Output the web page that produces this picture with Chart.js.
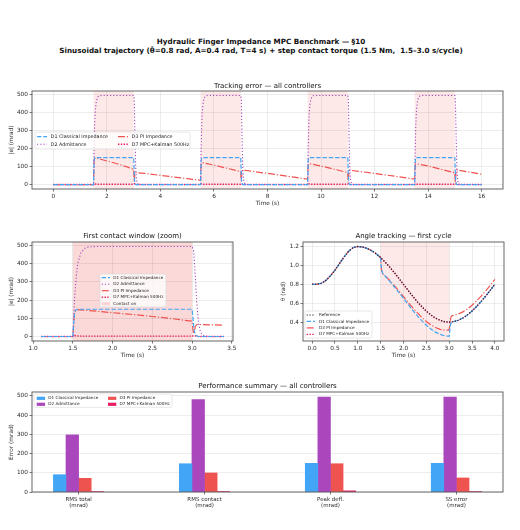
<!DOCTYPE html>
<html>
<head>
<meta charset="utf-8">
<script src="https://cdn.jsdelivr.net/npm/chart.js@4.4.0/dist/chart.umd.min.js"></script>
<style>
  html, body { margin: 0; padding: 0; background: #fff; }
  body { width: 520px; height: 530px; position: relative; overflow: hidden; font-family: "DejaVu Sans", sans-serif; }
  canvas { position: absolute; }
  .sup { position: absolute; left: 1px; width: 520px; text-align: center; font-weight: bold; white-space: pre; color: #111; line-height: 1; }
</style>
</head>
<body>
<div id="sup1" class="sup">Hydraulic Finger Impedance MPC Benchmark — §10</div>
<div id="sup2" class="sup">Sinusoidal trajectory (θ̄=0.8 rad, A=0.4 rad, T=4 s) + step contact torque (1.5 Nm,  1.5–3.0 s/cycle)</div>
<canvas id="cTrack" width="520" height="136" style="left:0;top:78px"></canvas>
<canvas id="cZoom" width="260" height="138" style="left:0;top:228px"></canvas>
<canvas id="cAngle" width="260" height="138" style="left:260px;top:228px"></canvas>
<canvas id="cBars" width="520" height="140" style="left:0;top:380px"></canvas>
<script>
// ---- data ----
const names = ['D1 Classical Impedance', 'D2 Admittance', 'D3 PI Impedance', 'D7 MPC+Kalman 500Hz'];
const contactStart = [1.5, 5.5, 9.5, 13.5];
const contactEnd = [3.0, 7.0, 11.0, 15.0];

// tracking error |e| (mrad), [t s, value]
const errD1 = [[0,0],[1.1,0],[1.5,0],[1.51,70],[1.52,125],[1.53,143],[1.55,150],[3.0,150],[3.01,110],[3.02,60],[3.03,25],[3.05,5],[3.08,0],[3.4,0],
  [5.5,0],[5.51,70],[5.52,125],[5.53,143],[5.55,150],[7.0,150],[7.01,110],[7.02,60],[7.03,25],[7.05,5],[7.08,0],
  [9.5,0],[9.51,70],[9.52,125],[9.53,143],[9.55,150],[11.0,150],[11.01,110],[11.02,60],[11.03,25],[11.05,5],[11.08,0],
  [13.5,0],[13.51,70],[13.52,125],[13.53,143],[13.55,150],[15.0,150],[15.01,110],[15.02,60],[15.03,25],[15.05,5],[15.08,0],[16,0]];
const errD2 = [[0,0],[1.1,0],[1.5,0],[1.51,110],[1.52,200],[1.54,320],[1.56,400],[1.6,460],[1.65,485],[1.7,493],[1.8,495],[3.0,495],[3.02,470],[3.04,330],[3.06,180],[3.08,80],[3.1,35],[3.12,15],[3.15,4],[3.2,0],[3.4,0],
  [5.5,0],[5.51,110],[5.52,200],[5.54,320],[5.56,400],[5.6,460],[5.65,485],[5.7,493],[5.8,495],[7.0,495],[7.02,470],[7.04,330],[7.06,180],[7.08,80],[7.1,35],[7.12,15],[7.15,4],[7.2,0],
  [9.5,0],[9.51,110],[9.52,200],[9.54,320],[9.56,400],[9.6,460],[9.65,485],[9.7,493],[9.8,495],[11.0,495],[11.02,470],[11.04,330],[11.06,180],[11.08,80],[11.1,35],[11.12,15],[11.15,4],[11.2,0],
  [13.5,0],[13.51,110],[13.52,200],[13.54,320],[13.56,400],[13.6,460],[13.65,485],[13.7,493],[13.8,495],[15.0,495],[15.02,470],[15.04,330],[15.06,180],[15.08,80],[15.1,35],[15.12,15],[15.15,4],[15.2,0],[16,0]];
const errD3 = [[0,0],[1.1,0],[1.5,0],[1.51,70],[1.52,135],[1.54,143],[1.56,147],[1.6,146],[1.8,139],[2.0,131],[2.25,121],[2.5,110],[2.75,98],[3.0,84],
  [3.01,40],[3.02,15],[3.03,30],[3.04,55],[3.06,66],[3.1,66],[3.4,62],[4.0,51],[4.5,42],[5.0,33],[5.5,24],
  [5.51,80],[5.53,118],[5.56,122],[6.0,108],[6.5,90],[7.0,72],[7.01,35],[7.02,15],[7.04,60],[7.06,80],[7.1,80],[8.0,62],[9.0,41],[9.5,30],
  [9.51,85],[9.53,113],[9.56,116],[10.0,103],[10.5,85],[11.0,66],[11.01,30],[11.02,12],[11.04,60],[11.06,79],[11.1,79],[12.0,62],[13.0,41],[13.5,30],
  [13.51,85],[13.53,113],[13.56,116],[14.0,103],[14.5,84],[15.0,65],[15.01,30],[15.02,12],[15.04,62],[15.06,81],[15.1,81],[16.0,57]];
const errD7 = [[0,0],[1.1,0],[1.5,0],[1.52,5],[1.6,2],[3.0,2],[3.02,5],[3.08,0],[3.4,0],
  [5.5,0],[5.52,5],[5.6,2],[7.0,2],[7.02,5],[7.08,0],[9.5,0],[9.52,5],[9.6,2],[11.0,2],[11.02,5],[11.08,0],
  [13.5,0],[13.52,5],[13.6,2],[15.0,2],[15.02,5],[15.08,0],[16,0]];

// joint angle θ (rad), first cycle, [t s, value]
const angRef = [[0,0.80],[0.1,0.80],[0.2,0.81],[0.3,0.84],[0.4,0.89],[0.5,0.95],[0.6,1.02],[0.7,1.09],[0.8,1.15],[0.9,1.19],[1.0,1.20],
  [1.1,1.195],[1.2,1.18],[1.3,1.156],[1.4,1.124],[1.5,1.083],[1.6,1.035],[1.7,0.982],[1.8,0.924],[1.9,0.863],[2.0,0.80],
  [2.1,0.737],[2.2,0.676],[2.3,0.618],[2.4,0.565],[2.5,0.517],[2.6,0.476],[2.7,0.444],[2.8,0.42],[2.9,0.405],[3.0,0.40],
  [3.1,0.405],[3.2,0.42],[3.3,0.444],[3.4,0.476],[3.5,0.517],[3.6,0.565],[3.7,0.618],[3.8,0.676],[3.9,0.737],[4.0,0.80]];
const angD1 = [[0,0.80],[0.1,0.80],[0.2,0.81],[0.3,0.84],[0.4,0.89],[0.5,0.95],[0.6,1.02],[0.7,1.09],[0.8,1.15],[0.9,1.19],[1.0,1.20],
  [1.1,1.195],[1.2,1.18],[1.3,1.156],[1.4,1.124],[1.5,1.083],[1.51,1.01],[1.52,0.955],[1.53,0.935],[1.55,0.91],[1.6,0.885],[1.7,0.832],[1.8,0.774],[1.9,0.713],[2.0,0.65],
  [2.1,0.587],[2.2,0.526],[2.3,0.468],[2.4,0.415],[2.5,0.367],[2.6,0.326],[2.7,0.294],[2.8,0.27],[2.9,0.255],[3.0,0.25],
  [3.01,0.29],[3.02,0.34],[3.03,0.375],[3.05,0.395],[3.1,0.405],[3.2,0.42],[3.3,0.444],[3.4,0.476],[3.5,0.517],[3.6,0.565],[3.7,0.618],[3.8,0.676],[3.9,0.737],[4.0,0.80]];
const angD3 = [[0,0.80],[0.1,0.80],[0.2,0.81],[0.3,0.84],[0.4,0.89],[0.5,0.95],[0.6,1.02],[0.7,1.09],[0.8,1.15],[0.9,1.19],[1.0,1.20],
  [1.1,1.195],[1.2,1.18],[1.3,1.156],[1.4,1.124],[1.5,1.083],[1.51,1.0],[1.52,0.945],[1.54,0.92],[1.56,0.905],[1.6,0.889],[1.7,0.84],[1.8,0.785],[1.9,0.728],[2.0,0.669],
  [2.1,0.61],[2.2,0.553],[2.3,0.5],[2.4,0.451],[2.5,0.407],[2.6,0.37],[2.7,0.343],[2.8,0.323],[2.9,0.315],[3.0,0.316],
  [3.01,0.36],[3.02,0.385],[3.03,0.43],[3.04,0.455],[3.06,0.466],[3.1,0.471],[3.2,0.485],[3.3,0.508],[3.4,0.538],[3.5,0.578],[3.6,0.624],[3.7,0.675],[3.8,0.731],[3.9,0.79],[4.0,0.851]];
const angD7 = [[0,0.80],[0.1,0.80],[0.2,0.81],[0.3,0.84],[0.4,0.89],[0.5,0.95],[0.6,1.02],[0.7,1.09],[0.8,1.15],[0.9,1.19],[1.0,1.20],
  [1.1,1.195],[1.2,1.18],[1.3,1.156],[1.4,1.124],[1.5,1.083],[1.52,1.07],[1.6,1.033],[1.7,0.98],[1.8,0.922],[1.9,0.861],[2.0,0.798],
  [2.1,0.735],[2.2,0.674],[2.3,0.616],[2.4,0.563],[2.5,0.515],[2.6,0.474],[2.7,0.442],[2.8,0.418],[2.9,0.403],[3.0,0.398],
  [3.02,0.405],[3.1,0.405],[3.2,0.42],[3.3,0.444],[3.4,0.476],[3.5,0.517],[3.6,0.565],[3.7,0.618],[3.8,0.676],[3.9,0.737],[4.0,0.80]];

// performance summary (mrad)
const metrics = [['RMS total', '(mrad)'], ['RMS contact', '(mrad)'], ['Peak defl.', '(mrad)'], ['SS error', '(mrad)']];
const sumD1 = [90, 147, 149, 149];
const sumD2 = [297, 481, 494, 494];
const sumD3 = [71, 99, 147, 73];
const sumD7 = [1, 1.5, 6, 0.5];

// tick labels
const tTicks16 = [0, 2, 4, 6, 8, 10, 12, 14, 16];
const tTicksZoom = [1.0, 1.5, 2.0, 2.5, 3.0, 3.5];
const tTicksCycle = [0, 0.5, 1.0, 1.5, 2.0, 2.5, 3.0, 3.5, 4.0];
const errTicks = [0, 100, 200, 300, 400, 500];
const angTicks = [0.4, 0.6, 0.8, 1.0, 1.2];
const metricTicks = [0, 1, 2, 3];

// ---- styling ----
const FONT = '"DejaVu Sans", sans-serif';
const INK = '#2b2b2b';
const GRID = 'rgba(0,0,0,0.09)';
const SPINE = '#555';
const C1 = '#42A5F5', C2 = '#AB47BC', C3 = '#EF5350', C7 = '#E91E63', CREF = '#222';
const DASH1 = [4.4, 1.9], DASH2 = [1.2, 2], DASH3 = [7, 1.9, 1.2, 1.9], DASH7 = [1.4, 1.4];

// main title, sized so line 2 spans like the reference
(function(){
  const m = document.createElement('canvas').getContext('2d');
  m.font = 'bold 10px "DejaVu Sans"';
  const s1 = document.getElementById('sup1'), s2 = document.getElementById('sup2');
  const fs = 10 * 404 / m.measureText(s2.textContent).width;
  [[s1, 42], [s2, 51]].forEach(([el, cy]) => {
    el.style.fontSize = fs + 'px';
    el.style.top = (cy - fs * 0.55) + 'px';
  });
})();

// ---- plugins ----
const shade = {
  id: 'shade',
  beforeDraw(chart, args, o) {
    if (!o || !o.from) return;
    const { ctx, chartArea: a, scales: { x } } = chart;
    ctx.save();
    ctx.fillStyle = o.color;
    o.from.forEach((s, i) => {
      const x0 = Math.max(a.left, x.getPixelForValue(s));
      const x1 = Math.min(a.right, x.getPixelForValue(o.to[i]));
      if (x1 > x0) ctx.fillRect(x0, a.top, x1 - x0, a.bottom - a.top);
    });
    ctx.restore();
  }
};

const frame = {
  id: 'frame',
  afterDatasetsDraw(chart) {
    const { ctx, chartArea: a } = chart;
    ctx.save();
    ctx.strokeStyle = SPINE;
    ctx.lineWidth = 0.9;
    ctx.strokeRect(a.left, a.top, a.right - a.left, a.bottom - a.top);
    ctx.restore();
  }
};

const axTitle = {
  id: 'axTitle',
  afterDraw(chart, args, o) {
    if (!o || !o.text) return;
    const { ctx, chartArea: a } = chart;
    ctx.save();
    ctx.font = `${o.size || 7}px ${FONT}`;
    ctx.fillStyle = '#111';
    ctx.textAlign = 'center';
    ctx.textBaseline = 'middle';
    ctx.fillText(o.text, (a.left + a.right) / 2, a.top - (o.gap || 5.5));
    ctx.restore();
  }
};

// matplotlib-like legend box, filled column by column
const boxLegend = {
  id: 'boxLegend',
  afterDraw(chart, args, o) {
    if (!o || !o.items) return;
    const ctx = chart.ctx;
    ctx.save();
    ctx.beginPath();
    ctx.roundRect(o.x, o.y, o.w, o.h, 1.5);
    ctx.fillStyle = 'rgba(255,255,255,0.8)';
    ctx.fill();
    ctx.strokeStyle = '#d6d6d6';
    ctx.lineWidth = 0.6;
    ctx.stroke();
    ctx.font = `${o.size}px ${FONT}`;
    ctx.textBaseline = 'middle';
    o.items.forEach((it, i) => {
      const col = Math.floor(i / o.rows), row = i % o.rows;
      const sx = o.x + o.colX[col];
      const sy = o.y + o.first + row * o.rowH;
      if (it.patch) {
        ctx.fillStyle = it.color;
        ctx.fillRect(sx, sy - 1.6, o.sampleW, 3.2);
      } else {
        ctx.strokeStyle = it.color;
        ctx.lineWidth = it.width || 1.2;
        ctx.setLineDash(it.dash || []);
        ctx.beginPath();
        ctx.moveTo(sx, sy);
        ctx.lineTo(sx + o.sampleW, sy);
        ctx.stroke();
        ctx.setLineDash([]);
      }
      ctx.fillStyle = '#222';
      ctx.fillText(it.label, sx + o.sampleW + o.gap, sy);
    });
    ctx.restore();
  }
};

Chart.register(shade, frame, axTitle, boxLegend);
Chart.defaults.font.family = FONT;

// ---- helpers ----
const pts = a => a.map(p => ({ x: p[0], y: p[1] }));
const within = (a, lo, hi) => a.filter(p => p[0] >= lo && p[0] <= hi);

function lineSet(label, data, color, dash, width) {
  return { label, data: pts(data), borderColor: color, backgroundColor: color, borderDash: dash || [],
    borderWidth: width || 1.2, pointRadius: 0, fill: false, tension: 0 };
}

function axis(o) {
  return {
    type: 'linear', min: o.min, max: o.max, offset: false,
    afterBuildTicks: s => { s.ticks = o.ticks.map(v => ({ value: v })); },
    afterFit: s => { if (o.width != null) s.width = o.width; if (o.height != null) s.height = o.height; },
    grid: { display: true, offset: false, color: o.nogrid ? 'rgba(0,0,0,0)' : GRID, lineWidth: 0.8,
      drawTicks: true, tickLength: 2.5, tickColor: SPINE, tickWidth: 0.8 },
    border: { display: false },
    ticks: { color: INK, font: { family: FONT, size: o.tsize || 5.8 }, padding: 1.5, maxRotation: 0, autoSkip: false,
      callback: o.fmt || (v => String(v)) },
    title: o.title ? { display: true, text: o.title, color: INK, font: { family: FONT, size: 5.8 }, padding: o.tpad } : { display: false }
  };
}

const base = (pad) => ({
  responsive: false, animation: false, devicePixelRatio: 1, events: [],
  layout: { padding: pad },
  plugins: { legend: { display: false }, tooltip: { enabled: false } }
});

const errLegendItems = [
  { label: names[0], color: C1, dash: DASH1 },
  { label: names[1], color: C2, dash: DASH2, width: 1.1 },
  { label: names[2], color: C3, dash: DASH3 },
  { label: names[3], color: C7, dash: DASH7, width: 1.4 }
];

// ---- tracking error, all controllers ----
new Chart(document.getElementById('cTrack'), {
  type: 'line',
  data: { datasets: [
    lineSet(names[0], errD1, C1, DASH1),
    lineSet(names[1], errD2, C2, DASH2, 1.1),
    lineSet(names[2], errD3, C3, DASH3),
    lineSet(names[3], errD7, C7, DASH7, 1.4)
  ] },
  options: Object.assign(base({ left: 0, top: 13, right: 17, bottom: 0 }), {
    scales: {
      x: axis({ min: -0.8, max: 16.8, ticks: tTicks16, height: 25, title: 'Time (s)', tpad: { top: 0, bottom: 7.5 } }),
      y: axis({ min: -24.75, max: 519.75, ticks: errTicks, width: 32, title: '|e| (mrad)', tpad: { top: 8.5, bottom: 0 } })
    },
    plugins: {
      legend: { display: false }, tooltip: { enabled: false },
      shade: { from: contactStart, to: contactEnd, color: 'rgba(239,83,80,0.13)' },
      axTitle: { text: 'Tracking error — all controllers', size: 7, gap: 5 },
      boxLegend: { x: 35, y: 54, w: 155, h: 17, rows: 2, colX: [2, 83], first: 4.7, rowH: 7.6,
        sampleW: 10, gap: 3.7, size: 4.8, items: errLegendItems }
    }
  })
});

// ---- first contact window (zoom) ----
new Chart(document.getElementById('cZoom'), {
  type: 'line',
  data: { datasets: [
    lineSet(names[0], within(errD1, 1.1, 3.4), C1, DASH1),
    lineSet(names[1], within(errD2, 1.1, 3.4), C2, DASH2, 1.1),
    lineSet(names[2], within(errD3, 1.1, 3.4), C3, DASH3),
    lineSet(names[3], within(errD7, 1.1, 3.4), C7, DASH7, 1.4)
  ] },
  options: Object.assign(base({ left: 0, top: 14, right: 27, bottom: 0 }), {
    scales: {
      x: axis({ min: 0.985, max: 3.515, ticks: tTicksZoom, height: 25, title: 'Time (s)', tpad: { top: 0, bottom: 7.5 }, fmt: v => v.toFixed(1) }),
      y: axis({ min: -24.75, max: 519.75, ticks: errTicks, width: 32, title: '|e| (mrad)', tpad: { top: 8, bottom: 0 } })
    },
    plugins: {
      legend: { display: false }, tooltip: { enabled: false },
      shade: { from: [contactStart[0]], to: [contactEnd[0]], color: 'rgba(239,83,80,0.22)' },
      axTitle: { text: 'First contact window (zoom)', size: 7, gap: 6 },
      boxLegend: { x: 100, y: 46, w: 66, h: 33, rows: 5, colX: [1.7], first: 3.7, rowH: 6.5,
        sampleW: 8.3, gap: 3.3, size: 4.2,
        items: errLegendItems.concat([{ label: 'Contact on', color: 'rgba(239,83,80,0.22)', patch: true }]) }
    }
  })
});

// ---- angle tracking, first cycle ----
new Chart(document.getElementById('cAngle'), {
  type: 'line',
  data: { datasets: [
    lineSet('Reference', angRef, CREF, [1.2, 1.6], 1.1),
    lineSet(names[0], angD1, C1, DASH1),
    lineSet(names[2], angD3, C3, DASH3),
    lineSet(names[3], angD7, C7, DASH7, 1.4)
  ] },
  options: Object.assign(base({ left: 0, top: 14, right: 16, bottom: 0 }), {
    scales: {
      x: axis({ min: -0.2, max: 4.2, ticks: tTicksCycle, height: 25, title: 'Time (s)', tpad: { top: 0, bottom: 7.5 }, fmt: v => v.toFixed(1) }),
      y: axis({ min: 0.2, max: 1.2475, ticks: angTicks, width: 43, title: 'θ (rad)', tpad: { top: 19.8, bottom: 0 }, fmt: v => v.toFixed(1) })
    },
    plugins: {
      legend: { display: false }, tooltip: { enabled: false },
      shade: { from: [contactStart[0]], to: [contactEnd[0]], color: 'rgba(239,83,80,0.13)' },
      axTitle: { text: 'Angle tracking — first cycle', size: 7, gap: 6 },
      boxLegend: { x: 45, y: 83, w: 67, h: 27, rows: 4, colX: [1.7], first: 4, rowH: 6.45,
        sampleW: 8.3, gap: 4, size: 4.2,
        items: [{ label: 'Reference', color: CREF, dash: [1.2, 1.6], width: 1.1 },
          { label: names[0], color: C1, dash: DASH1 },
          { label: names[2], color: C3, dash: DASH3 },
          { label: names[3], color: C7, dash: DASH7, width: 1.4 }] }
    }
  })
});

// ---- performance summary ----
const barSet = (label, vals, color) => ({
  label, data: vals.map((v, i) => ({ x: metricTicks[i], y: v })),
  backgroundColor: color, borderWidth: 0, barThickness: 12.6, grouped: true
});

new Chart(document.getElementById('cBars'), {
  type: 'bar',
  data: { datasets: [
    barSet(names[0], sumD1, C1),
    barSet(names[1], sumD2, C2),
    barSet(names[2], sumD3, C3),
    barSet(names[3], sumD7, C7)
  ] },
  options: Object.assign(base({ left: 0, top: 12, right: 17, bottom: 0 }), {
    scales: {
      x: axis({ min: -0.37, max: 3.37, ticks: metricTicks, height: 28, nogrid: true, tsize: 5.5, fmt: v => metrics[v] }),
      y: axis({ min: 0, max: 520, ticks: errTicks, width: 32, title: 'Error (mrad)', tpad: { top: 8.5, bottom: 0 } })
    },
    plugins: {
      legend: { display: false }, tooltip: { enabled: false },
      axTitle: { text: 'Performance summary — all controllers', size: 7, gap: 6 },
      boxLegend: { x: 34, y: 14, w: 138, h: 13.3, rows: 2, colX: [2.7, 74], first: 4.3, rowH: 6,
        sampleW: 8.3, gap: 3.3, size: 4.2,
        items: [{ label: names[0], color: C1, patch: true }, { label: names[1], color: C2, patch: true },
          { label: names[2], color: C3, patch: true }, { label: names[3], color: C7, patch: true }] }
    }
  })
});
</script>
</body>
</html>
